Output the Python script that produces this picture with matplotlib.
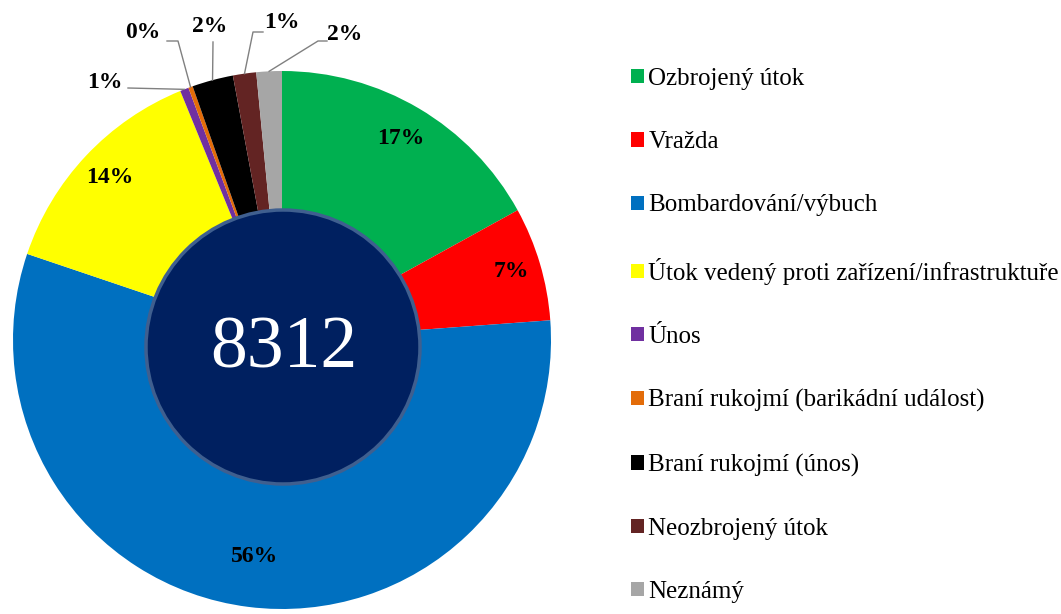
import matplotlib.pyplot as plt
from matplotlib.patches import Circle, Patch
import numpy as np

plt.rcParams['font.family'] = ['Liberation Serif', 'DejaVu Serif']

categories = ["Ozbrojený útok", "Vražda", "Bombardování/výbuch",
              "Útok vedený proti zařízení/infrastruktuře", "Únos",
              "Braní rukojmí (barikádní událost)", "Braní rukojmí (únos)",
              "Neozbrojený útok", "Neznámý"]
counts = [1412, 569, 4684, 1134, 43, 22, 205, 116, 127]
colors = ["#00B050", "#FF0000", "#0070C0", "#FFFF00", "#7030A0",
          "#E36C09", "#000000", "#632423", "#A6A6A6"]

total = sum(counts)
pcts = [100 * c / total for c in counts]

W, H = 1061, 614
CX, CY, R = 282, 340, 269  # pie centre and radius in pixels


def px(x, y):
    # image pixel -> data coords
    return (x - CX) / R, (CY - y) / R


fig = plt.figure(figsize=(W / 100, H / 100), dpi=100)
ax = fig.add_axes([(CX - R) / W, (H - CY - R) / H, 2 * R / W, 2 * R / H])

wedges, _ = ax.pie(counts, colors=colors, startangle=90, counterclock=False,
                   radius=1)
ax.set_xlim(-1, 1)
ax.set_ylim(-1, 1)
ax.set_aspect('auto')
ax.axis('off')

# centre disc with total
ax.add_patch(Circle(px(283, 347), 137 / R, facecolor='#002060',
                    edgecolor='#3F5F8F', linewidth=2.5, zorder=5))
ax.text(*px(284, 350), f"{total}", color='white', fontsize=53,
        ha='center', va='center', zorder=6)

# labels inside the big slices
inside_r = {0: 0.87, 1: 0.89, 2: 0.81, 3: 0.88}
for i, r in inside_r.items():
    w = wedges[i]
    a = np.deg2rad((w.theta1 + w.theta2) / 2)
    ax.text(r * np.cos(a), r * np.sin(a), f"{pcts[i]:.0f}%", fontsize=17,
            fontweight='bold', ha='center', va='center', zorder=4)

# small slices: label position, leader start, optional elbow (pixels)
outside = {
    4: ((105, 82), [(128, 88)]),
    5: ((143, 32), [(167, 41), (178, 41)]),
    6: ((210, 27), [(213, 42)]),
    7: ((282, 23), [(263, 32), (253, 32)]),
    8: ((345, 34), [(327, 41), (318, 41)]),
}
for i, (lab, pts) in outside.items():
    w = wedges[i]
    a = np.deg2rad((w.theta1 + w.theta2) / 2)
    xs = [px(*p)[0] for p in pts] + [np.cos(a)]
    ys = [px(*p)[1] for p in pts] + [np.sin(a)]
    ax.plot(xs, ys, color='#808080', lw=1, clip_on=False, zorder=3)
    ax.text(*px(*lab), f"{pcts[i]:.0f}%", fontsize=17, fontweight='bold',
            ha='center', va='center', clip_on=False)

handles = [Patch(facecolor=c, edgecolor='none') for c in colors]
fig.legend(handles, categories, loc='upper left',
           bbox_to_anchor=(631 / W, 1 - 68 / H), frameon=False,
           fontsize=18, handlelength=0.5, handleheight=0.5,
           handletextpad=0.2, labelspacing=1.65, borderpad=0,
           borderaxespad=0)

fig.savefig('out.png', dpi=100)
